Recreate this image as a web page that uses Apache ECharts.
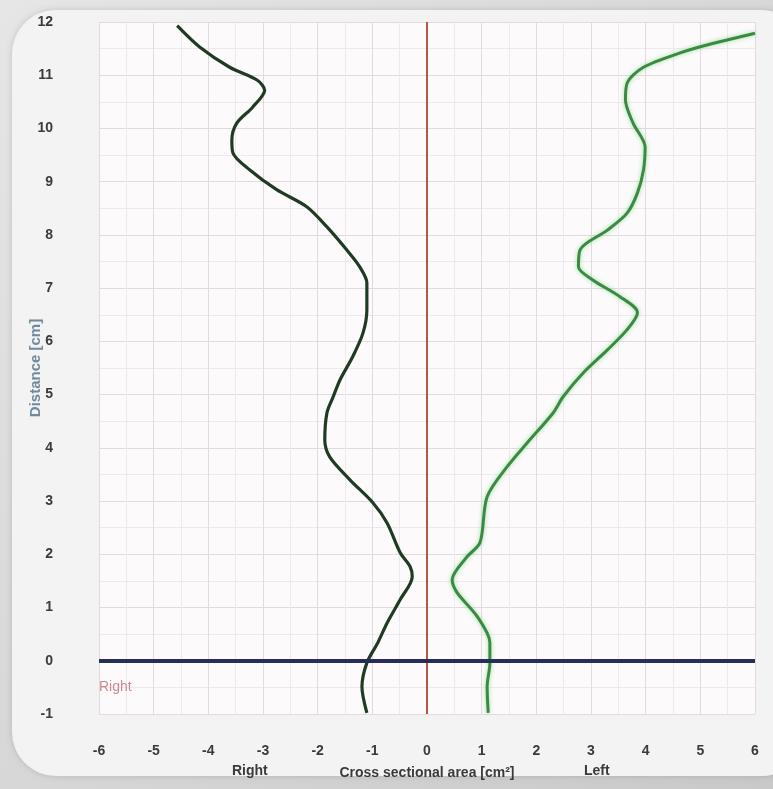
<!DOCTYPE html>
<html><head><meta charset="utf-8">
<script src="https://cdn.jsdelivr.net/npm/echarts@6/dist/echarts.min.js"></script>
<style>html,body{margin:0;padding:0;background:#d8d8d8}#c{width:773px;height:789px}</style>
</head><body><div id="c"></div>
<script>
// Right side (dark curve): cross sectional area (negative) vs distance
const rightX = [-4.57,-4.16,-3.61,-3.11,-2.97,-3.19,-3.48,-3.57,-3.55,-3.24,-2.75,-2.20,-1.83,-1.47,-1.23,-1.10,-1.10,-1.17,-1.36,-1.59,-1.72,-1.83,-1.87,-1.78,-1.41,-0.99,-0.73,-0.49,-0.31,-0.27,-0.49,-0.73,-0.90,-1.10,-1.19,-1.10];
const rightY = [11.93,11.53,11.15,10.91,10.72,10.40,10.10,9.78,9.54,9.22,8.85,8.53,8.15,7.72,7.40,7.10,6.59,6.16,5.71,5.28,4.95,4.66,4.15,3.83,3.40,2.97,2.59,2.03,1.77,1.58,1.15,0.71,0.34,-0.04,-0.49,-0.98];
// Left side (light green curve)
const leftX = [6.00,5.24,4.63,3.96,3.66,3.63,3.77,3.99,3.96,3.85,3.66,3.30,2.80,2.77,3.04,3.53,3.85,3.66,3.30,2.86,2.49,2.31,1.83,1.47,1.10,0.97,0.73,0.46,0.55,0.92,1.15,1.15,1.10,1.12];
const leftY = [11.79,11.60,11.42,11.15,10.85,10.54,10.10,9.65,9.22,8.79,8.41,8.09,7.72,7.40,7.15,6.84,6.54,6.22,5.84,5.41,4.96,4.66,4.09,3.65,3.08,2.22,1.95,1.52,1.28,0.83,0.34,-0.04,-0.49,-0.98];
const xRange = [-6, 6];
const yRange = [-1, 12];
const xTitle = 'Cross sectional area [cm²]';
const yTitle = 'Distance [cm]';
const sideLabels = ['Right', 'Left'];
const insideLabel = 'Right';

const chart = echarts.init(document.getElementById('c'), null, {renderer: 'canvas'});
const zip = (xs, ys) => xs.map((x, i) => [x, ys[i]]);
const tickFont = {fontFamily: 'Liberation Sans, Arial, sans-serif', fontSize: 14, fontWeight: 'bold', color: '#3a3a3a'};

chart.setOption({
  animation: false,
  backgroundColor: 'transparent',
  graphic: [
    {type: 'rect', z: -20, shape: {x: 0, y: 0, width: 773, height: 789},
      style: {fill: new echarts.graphic.LinearGradient(0, 0, 1, 1, [{offset: 0, color: '#e6e6e6'}, {offset: 1, color: '#c9c9c9'}])}},
    {type: 'rect', z: -19, shape: {x: 12, y: 10, width: 790, height: 766, r: [44, 40, 40, 44]},
      style: {fill: '#f3f3f3', shadowColor: 'rgba(0,0,0,0.15)', shadowBlur: 6}},
    {type: 'text', z: 5, left: 232, top: 764, style: {text: sideLabels[0], ...tickFont, fill: '#3a3a3a', fontSize: 14}},
    {type: 'text', z: 5, left: 584, top: 764, style: {text: sideLabels[1], ...tickFont, fill: '#3a3a3a', fontSize: 14}}
  ],
  grid: {left: 99, right: 18, top: 22, bottom: 75, show: true, backgroundColor: '#fcfafb', borderWidth: 0},
  xAxis: {
    type: 'value', min: xRange[0], max: xRange[1], interval: 1,
    axisLine: {show: false}, axisTick: {show: false},
    axisLabel: {...tickFont, margin: 30},
    splitLine: {show: true, lineStyle: {color: '#e2dadf', width: 1}},
    minorTick: {show: false, splitNumber: 2},
    minorSplitLine: {show: true, lineStyle: {color: '#efe9ed', width: 1}},
    name: xTitle, nameLocation: 'middle', nameGap: 52, nameMoveOverlap: false,
    nameTextStyle: {...tickFont, fontSize: 14}
  },
  yAxis: {
    type: 'value', min: yRange[0], max: yRange[1], interval: 1,
    axisLine: {show: false}, axisTick: {show: false},
    axisLabel: {...tickFont, margin: 46},
    splitLine: {show: true, lineStyle: {color: '#e2dadf', width: 1}},
    minorTick: {show: false, splitNumber: 2},
    minorSplitLine: {show: true, lineStyle: {color: '#efe9ed', width: 1}},
    name: yTitle, nameLocation: 'middle', nameGap: 56, nameRotate: 90, nameMoveOverlap: false,
    nameTextStyle: {fontFamily: 'Liberation Sans, Arial, sans-serif', fontSize: 15, fontWeight: 'bold', color: '#6f8a9c'}
  },
  series: [
    {
      type: 'line', data: zip(rightX, rightY), smooth: 0.3, showSymbol: false, z: 4,
      lineStyle: {color: '#1f3b23', width: 3.2},
      markLine: {
        silent: true, symbol: ['none', 'none'], label: {show: false},
        data: [
          {xAxis: 0, lineStyle: {color: '#b9564a', width: 2, type: 'solid'}},
          {yAxis: 0, lineStyle: {color: '#262d58', width: 4, type: 'solid'}}
        ]
      },
      markPoint: {
        silent: true, symbol: 'circle', symbolSize: 0,
        data: [{coord: [-6, -0.5], label: {show: true, position: 'right', distance: 0, formatter: insideLabel,
          fontFamily: 'Liberation Sans, Arial, sans-serif', fontSize: 14, color: '#c98b8f'}}]
      }
    },
    {
      type: 'line', data: zip(leftX, leftY), smooth: 0.3, showSymbol: false, z: 4,
      lineStyle: {color: '#3a8a44', width: 3, shadowColor: 'rgba(140,220,140,0.9)', shadowBlur: 4}
    }
  ]
});
</script></body></html>
